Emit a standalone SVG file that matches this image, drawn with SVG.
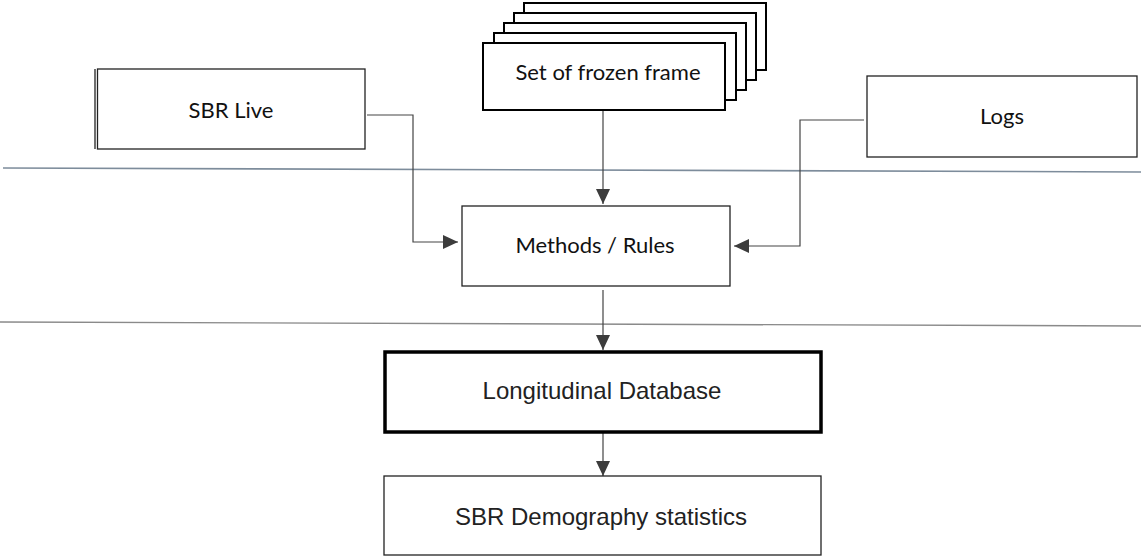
<svg xmlns="http://www.w3.org/2000/svg" width="1141" height="556" viewBox="0 0 1141 556">
<defs>
<style>
.box{fill:#fff;stroke:#222;stroke-width:1.3}
.frame{fill:#fff;stroke:#000;stroke-width:2}
.thick{fill:#fff;stroke:#000;stroke-width:3.5}
.cal{font-family:Lato,"Liberation Sans",sans-serif;font-size:22px;fill:#111;text-anchor:middle}
.ari{font-family:"Liberation Sans",Arial,sans-serif;font-size:24px;fill:#222;text-anchor:middle}
.conn{fill:none;stroke:#444;stroke-width:1.2}
</style>
<marker id="arr" markerUnits="userSpaceOnUse" markerWidth="16" markerHeight="14" refX="15" refY="7" orient="auto">
<path d="M0,0 L15,7 L0,14 z" fill="#3c3c3c"/>
</marker>
</defs>
<rect width="1141" height="556" fill="#fff"/>
<g id="dividers">
<line x1="3" y1="168" x2="1141" y2="172" stroke="#7d8c9b" stroke-width="1.6"/>
<line x1="0" y1="322" x2="1141" y2="326" stroke="#8a8a8a" stroke-width="1.4"/>
</g>
<g id="connectors">
<polyline class="conn" points="367,115 413,115 413,242 458,242" marker-end="url(#arr)"/>
<line class="conn" x1="603" y1="111" x2="603" y2="204" marker-end="url(#arr)"/>
<polyline class="conn" points="864,120 800,120 800,246 734,246" marker-end="url(#arr)"/>
<line class="conn" x1="603" y1="290" x2="603" y2="350" marker-end="url(#arr)"/>
<line class="conn" x1="603" y1="433" x2="603" y2="476" marker-end="url(#arr)"/>
</g>
<g id="sbr-live">
<rect class="box" x="97.5" y="69" width="267.5" height="80"/>
<line x1="95" y1="69" x2="95" y2="149" stroke="#222" stroke-width="1.3"/>
<text class="cal" x="231" y="118">SBR Live</text>
</g>
<g id="frozen-frames">
<rect class="frame" x="524" y="3" width="242" height="67"/>
<rect class="frame" x="514" y="13" width="242" height="67"/>
<rect class="frame" x="504" y="23" width="242" height="67"/>
<rect class="frame" x="494" y="33" width="242" height="67"/>
<rect class="frame" x="483" y="43" width="242" height="67"/>
<text class="cal" x="608" y="80">Set of frozen frame</text>
</g>
<g id="logs">
<rect class="box" x="867" y="76" width="270" height="81"/>
<text class="cal" x="1002" y="124">Logs</text>
</g>
<g id="methods">
<rect class="box" x="462" y="206" width="268" height="80"/>
<text class="cal" x="595" y="253">Methods / Rules</text>
</g>
<g id="longitudinal">
<rect class="thick" x="385" y="352" width="436" height="80"/>
<text class="ari" x="602" y="399">Longitudinal Database</text>
</g>
<g id="demography">
<rect class="box" x="384" y="476" width="437" height="79" stroke-width="1.8" stroke="#111"/>
<text class="ari" x="601" y="525">SBR Demography statistics</text>
</g>
</svg>
